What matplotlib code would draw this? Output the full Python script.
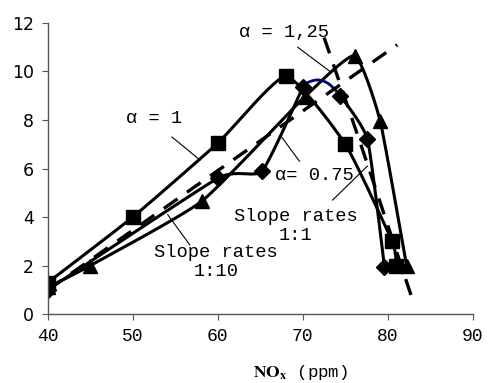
import numpy as np
import matplotlib
matplotlib.use("Agg")
import matplotlib.pyplot as plt

plt.rcParams["mathtext.fontset"] = "stix"

# ---- data ----
sq_x = [40, 50, 60, 68, 75, 80.5, 81]
sq_y = [1.3, 4.0, 7.05, 9.8, 7.0, 3.0, 2.0]

di_x = [40, 60, 65.2, 70, 74.4, 77.6, 79.6]
di_y = [1.0, 5.6, 5.9, 9.35, 9.0, 7.2, 1.95]

tr_x = [40, 45, 58.1, 70.2, 76.1, 79.1, 82.2]
tr_y = [1.1, 2.0, 4.65, 8.95, 10.65, 7.95, 2.0]

arc_x = [69.8, 70.6, 71.8, 73.0, 74.2]
arc_y = [9.35, 9.55, 9.65, 9.5, 9.1]

d10_x = [40, 81.1]
d10_y = [1.0, 11.1]

d1_x = [72.5, 77.0, 82.8]
d1_y = [11.4, 6.8, 0.7]

x_ticks = [40, 50, 60, 70, 80, 90]
y_ticks = [0, 2, 4, 6, 8, 10, 12]


def cardinal(x, y, tension=0.5, n=30):
    p = np.column_stack([x, y]).astype(float)
    k = len(p)
    m = np.zeros_like(p)
    for i in range(k):
        a = p[max(i - 1, 0)]
        b = p[min(i + 1, k - 1)]
        m[i] = (1 - tension) * (b - a) / 2
    t = np.linspace(0, 1, n)[:, None]
    h00 = 2 * t**3 - 3 * t**2 + 1
    h10 = t**3 - 2 * t**2 + t
    h01 = -2 * t**3 + 3 * t**2
    h11 = t**3 - t**2
    out = [h00 * p[i] + h10 * m[i] + h01 * p[i + 1] + h11 * m[i + 1] for i in range(k - 1)]
    s = np.vstack(out)
    return s[:, 0], s[:, 1]


fig = plt.figure(figsize=(4.88, 3.83), dpi=100)
ax = fig.add_axes([0.098, 0.180, 0.871, 0.760])

lw = 2.2
kw = dict(color="black", lw=lw, solid_capstyle="round", solid_joinstyle="round")
for xs, ys in [(sq_x, sq_y), (tr_x, tr_y)]:
    ax.plot(*cardinal(xs, ys), **kw)
# diamond series: the segment between the 4th and 5th points is the navy arc
ax.plot(*cardinal(di_x[:4], di_y[:4]), **kw)
ax.plot(*cardinal(di_x[4:], di_y[4:]), **kw)
ax.plot(*cardinal(arc_x, arc_y, tension=0.0), color="#000080", lw=2.0)

for xs, ys, mk, ms in [(sq_x, sq_y, "s", 10), (di_x, di_y, "D", 8.5), (tr_x, tr_y, "^", 9.5)]:
    ax.plot(xs, ys, ls="none", marker=mk, ms=ms, color="black")

ax.plot(d10_x, d10_y, color="black", lw=2.4, dashes=(5, 3.5))
ax.plot(*cardinal(d1_x, d1_y), color="black", lw=2.4, dashes=(5, 3.5))

mono = "Liberation Mono"
fs = 13.5
ax.text(52.5, 8.05, "α = 1", family=mono, fontsize=fs, ha="center", va="center")
ax.plot([54.6, 57.9], [7.3, 6.35], color="black", lw=0.8)
ax.text(67.8, 11.6, "α = 1,25", family=mono, fontsize=fs, ha="center", va="center")
ax.plot([69.4, 73.2], [11.0, 10.0], color="black", lw=0.8)
ax.text(71.4, 5.73, "α= 0.75", family=mono, fontsize=fs, ha="center", va="center")
ax.plot([69.6, 67.5], [6.3, 7.3], color="black", lw=0.8)
ax.text(69.2, 3.63, "Slope rates\n1:1", family=mono, fontsize=fs, ha="center", va="center",
        linespacing=1.1)
ax.plot([73.5, 77.6], [4.7, 6.1], color="black", lw=0.8)
ax.text(59.8, 2.15, "Slope rates\n1:10", family=mono, fontsize=fs, ha="center", va="center",
        linespacing=1.1)
ax.plot([56.7, 54.1], [2.85, 4.1], color="black", lw=0.8)

ax.set_xlim(40, 90)
ax.set_ylim(0, 12)
ax.set_xticks(x_ticks)
ax.set_yticks(y_ticks)
ax.set_xticklabels([str(v) for v in x_ticks], family=mono, fontsize=13)
ax.set_yticklabels([str(v) for v in y_ticks], family="DejaVu Sans", fontsize=12.5)
for s in ["top", "right"]:
    ax.spines[s].set_visible(False)
for s in ["left", "bottom"]:
    ax.spines[s].set_color("#555555")
    ax.spines[s].set_linewidth(1.0)
ax.tick_params(direction="out", length=4, color="#555555", pad=6)
fig.text(300 / 488, 1 - 373 / 383, r"$\mathbf{NO_x}$ (ppm)", family=mono, fontsize=12.5,
         ha="center", va="center")
ax.patch.set_alpha(0)
fig.savefig("out.png", dpi=100, facecolor="white")
